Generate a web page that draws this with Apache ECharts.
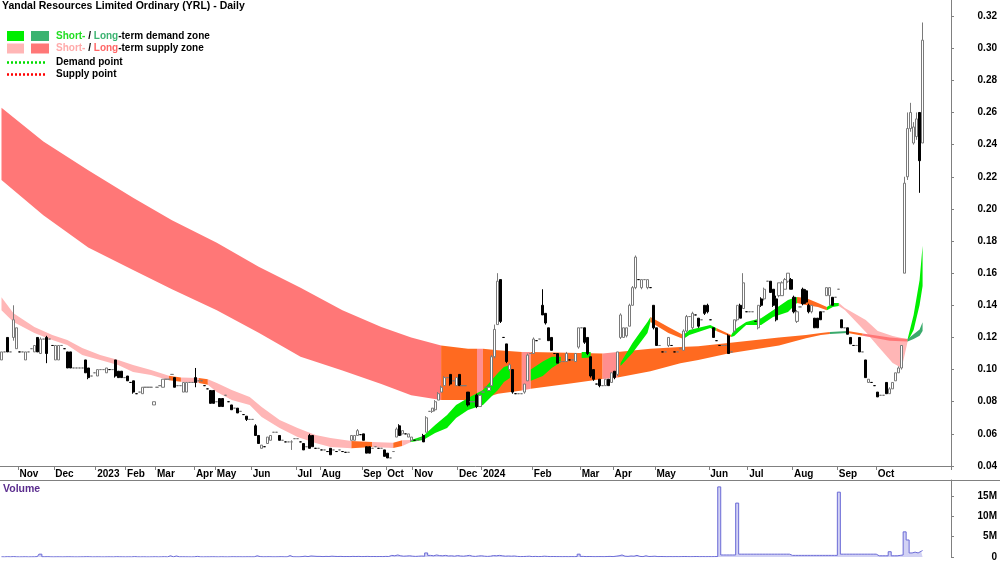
<!DOCTYPE html>
<html>
<head>
<meta charset="utf-8">
<title>YRL - Daily</title>
<script src="https://cdn.jsdelivr.net/npm/echarts@6/dist/echarts.min.js"></script>
<style>
  html, body { margin: 0; padding: 0; background: #fff; }
  #chart { width: 1000px; height: 562px; }
</style>
</head>
<body>
<div id="chart"></div>
<script>
// date axis: month labels and the bar each month starts on
var monthLabels = ['Nov', 'Dec', '2023', 'Feb', 'Mar', 'Apr', 'May', 'Jun', 'Jul', 'Aug', 'Sep', 'Oct',
                   'Nov', 'Dec', '2024', 'Feb', 'Mar', 'Apr', 'May', 'Jun', 'Jul', 'Aug', 'Sep', 'Oct'];
var monthStarts = [6, 18, 32, 42, 52, 65, 72, 84, 99, 107, 121, 129,
                   138, 153, 161, 178, 194, 205, 219, 237, 250, 265, 280, 293];
var barSlots = 318; // last few slots stay empty

// daily bars in cents: [open, close, low, high]; a plain number is a flat day
var candles = [
  /*   0 */ [10.6,11.1,10.6,11.1], 11.1, [12.0,11.1,11.1,12.0], 11.1, [12.0,13.1,11.8,14.0], [11.3,12.6,11.3,12.6], 11.1, 11.1, [10.6,11.1,10.6,11.1], 11.1,
  /*  10 */ 11.3, [11.1,11.5,11.1,11.5], [12.0,11.1,11.1,12.0], [11.0,11.9,11.0,12.0], 11.9, [12.0,11.0,10.4,12.1], 11.9, 11.5, [10.6,11.5,10.6,11.5], [10.6,11.5,10.6,11.5],
  /*  20 */ 11.5, 11.3, [11.1,10.1,10.1,11.1], [11.1,10.1,10.1,11.1], 10.1, 10.1, 10.1, 10.1, [10.6,9.8,9.8,10.6], [10.1,9.5,9.4,10.1],
  /*  30 */ 9.6, 9.8, [9.6,10.0,9.6,10.0], 10.0, 10.0, [9.8,10.1,9.8,10.1], 10.0, 10.0, [10.6,9.6,9.5,10.6], [9.9,9.5,9.5,9.9],
  /*  40 */ [9.9,9.5,9.5,9.9], 9.5, [9.6,9.3,9.3,9.6], 9.2, [9.3,8.6,8.5,9.3], 8.5, 8.6, [8.5,8.9,8.5,8.9], 8.9, 8.9,
  /*  50 */ 8.9, [7.8,8.0,7.8,8.0], 8.9, 9.0, [8.9,9.4,8.9,9.4], 9.4, 9.4, 9.7, [9.5,8.9,8.9,9.5], 9.0,
  /*  60 */ 9.0, [8.6,9.2,8.6,9.2], [8.6,9.2,8.6,9.2], 9.2, 9.2, [9.5,9.2,8.9,10.1], 9.3, 9.3, 9.0, 8.8,
  /*  70 */ [8.7,7.9,7.9,8.7], [8.7,7.9,7.9,8.7], 8.0, [8.2,7.7,7.7,8.2], [8.2,7.7,7.7,8.2], 8.4, 8.0, [7.8,7.5,7.5,7.8], 7.6, [7.6,7.3,7.3,7.6],
  /*  80 */ 7.4, 7.2, [7.1,6.9,6.8,7.1], 6.9, 6.9, [6.5,5.9,5.9,6.6], [5.9,5.4,5.4,5.9], [5.1,5.3,5.1,5.3], 5.2, [5.4,5.8,5.4,5.8],
  /*  90 */ [5.6,5.9,5.6,5.9], 6.1, 6.1, [5.9,5.6,5.6,5.9], 5.6, 5.5, 5.5, [5.5,5.5,5.0,5.6], 5.7, 5.7,
  /* 100 */ 5.5, [5.4,5.0,5.0,5.4], 5.2, [5.9,5.1,5.1,6.0], [5.9,5.2,5.2,5.9], 5.1, 5.1, 5.0, 5.0, 4.9,
  /* 110 */ [5.1,4.7,4.7,5.1], 5.0, 4.9, 5.0, 4.9, 4.85, 4.85, [5.6,5.9,5.6,5.9], [5.6,5.9,5.6,5.9], [5.9,6.2,5.9,6.3],
  /* 120 */ 5.95, [6.0,5.6,5.6,6.0], [5.2,4.8,4.8,5.2], [5.2,4.8,4.8,5.2], 5.1, 5.2, 5.1, 5.1, [5.0,4.6,4.6,5.0], [4.8,4.5,4.5,4.8],
  /* 130 */ 4.5, 4.9, [5.8,6.3,5.8,6.4], [6.5,5.9,5.9,6.6], [6.0,6.2,5.9,6.2], 6.0, [5.8,6.0,5.8,6.0], [5.6,5.8,5.5,5.8], 5.6, 5.6,
  /* 140 */ 5.7, [5.9,5.5,5.5,6.0], [6.1,7.0,6.1,7.1], 7.4, [7.4,7.6,7.3,7.6], [7.5,8.0,7.4,8.1], [8.1,8.5,8.1,8.6], [8.6,8.9,8.6,9.0], [9.0,9.5,9.0,9.6], 9.5,
  /* 150 */ [9.7,9.1,9.0,9.7], 9.3, [9.0,9.5,9.0,9.5], [9.7,9.0,9.0,9.7], 9.0, 9.0, [8.6,7.8,7.7,8.6], 8.0, 8.0, [8.4,7.7,7.6,8.5],
  /* 160 */ [7.7,8.4,7.7,8.5], 8.6, 8.9, [8.7,8.9,8.7,8.9], [9.0,10.8,9.0,10.9], [10.8,12.5,10.7,12.8], [12.8,15.5,12.8,16.0], [15.6,13.0,12.9,15.6], 12.0, [11.6,10.5,10.4,11.6],
  /* 170 */ [10.0,10.3,9.9,10.4], [10.0,8.6,8.5,10.0], 8.5, 8.5, 8.5, [8.6,9.1,8.5,9.1], [9.3,10.9,9.3,11.0], 11.0, [11.0,11.9,11.0,12.0], 11.8,
  /* 180 */ 11.9, [14.0,13.4,13.4,15.0], [13.5,12.9,12.8,13.5], [12.6,11.8,11.8,12.6], [12.0,11.2,11.2,12.0], 11.0, [11.0,10.4,10.4,11.0], 10.5, 10.5, [10.5,11.0,10.5,11.1],
  /* 190 */ 10.6, 10.6, [10.5,11.0,10.5,11.0], [11.4,12.6,11.3,12.6], 12.6, [12.6,11.7,11.6,12.6], [12.0,11.0,10.9,12.0], [10.8,9.6,9.5,10.8], [10.0,9.4,9.3,10.0], 9.1,
  /* 200 */ [9.4,9.0,8.9,9.4], 9.0, [9.0,9.4,9.0,9.4], [9.4,9.0,9.0,9.4], [9.2,9.8,9.2,9.8], [9.9,9.5,9.4,9.9], [9.7,11.1,9.6,11.1], [12.0,13.4,11.9,13.5], [12.0,12.6,12.0,12.6], [12.1,12.6,12.0,12.6],
  /* 210 */ [12.7,14.0,12.7,14.1], [14.0,15.1,14.0,15.2], [15.1,17.0,15.0,17.1], 15.6, [15.1,15.6,15.0,15.6], 15.6, [15.1,15.6,15.0,15.6], 15.1, [14.0,12.6,12.5,14.0], [12.6,11.5,11.5,12.6],
  /* 220 */ 11.5, 11.1, 11.1, [11.5,12.0,11.4,12.0], 11.5, 11.1, 11.1, 11.3, [11.2,12.4,11.2,12.5], [12.4,13.3,12.3,13.4],
  /* 230 */ 13.3, [12.6,13.5,12.5,13.6], 13.4, [13.2,12.7,12.6,13.2], 13.1, [14.0,13.5,13.4,14.0], [14.0,13.6,13.5,14.1], 13.1, [12.6,12.0,12.0,12.6], 11.8,
  /* 240 */ 11.5, 11.5, 11.5, [12.1,11.0,11.0,12.2], 11.1, [12.4,13.1,12.3,13.1], [13.1,14.0,13.0,14.0], [14.0,13.2,13.2,14.1], [13.8,15.4,13.8,16.0], 13.6,
  /* 250 */ 13.6, 13.6, 13.0, [12.6,14.0,12.5,14.0], [14.4,14.0,13.9,14.5], [14.4,15.0,14.3,15.1], 15.5, [15.5,14.8,14.8,15.5], [15.0,14.0,13.9,15.0], [14.4,13.1,13.0,14.6],
  /* 260 */ [14.6,15.4,14.5,15.4], [14.6,15.4,14.6,15.5], [15.0,15.6,15.0,15.7], [15.5,16.0,15.4,16.0], [15.6,15.0,15.0,15.7], [14.5,13.6,13.5,14.6], [13.0,13.6,12.9,13.7], 13.9, [15.0,14.1,14.0,15.1], [14.9,14.2,14.1,15.0],
  /* 270 */ [14.0,13.6,13.5,14.1], [13.6,14.0,13.5,14.0], [13.2,12.6,12.6,13.2], [13.2,12.6,12.6,13.2], [13.6,13.1,13.1,13.6], 13.6, [14.6,15.1,14.6,15.1], [14.6,15.1,14.0,15.1], [14.5,14.0,14.0,14.5], 14.5,
  /* 280 */ 15.0, [13.1,12.6,12.6,13.1], 12.6, [12.6,12.2,12.2,12.6], [12.0,11.6,11.6,12.0], 11.5, 11.5, [12.0,11.1,11.1,12.0], 11.1, [10.6,9.5,9.5,10.6],
  /* 290 */ [9.2,9.4,9.2,9.4], 9.2, 9.0, [8.6,8.3,8.3,8.6], 8.4, 8.4, [9.2,8.5,8.5,9.2], [8.5,8.8,8.5,8.9], [8.8,9.2,8.8,9.2], [9.3,9.8,9.3,9.8],
  /* 300 */ [9.8,10.1,9.8,10.2], [10.1,11.5,10.0,11.5], [16.0,21.6,16.0,22.0], [22.0,25.0,21.8,26.0], [25.0,26.0,24.8,26.6], [24.1,25.1,24.0,25.4], [24.5,25.6,24.3,26.0], [26.0,23.0,21.0,26.0], [24.1,30.5,24.1,31.6]
];

// daily volume in millions of shares
var volumes = [
  /*   0 */ 0.05,0.03,0.08,0.04,0.1,0.05,0.03,0.04,0.06,0.03,
  /*  10 */ 0.04,0.05,0.1,0.7,0.06,0.08,0.04,0.03,0.05,0.04,
  /*  20 */ 0.03,0.05,0.06,0.04,0.03,0.03,0.04,0.05,0.08,0.06,
  /*  30 */ 0.03,0.04,0.05,0.03,0.03,0.05,0.04,0.03,0.08,0.05,
  /*  40 */ 0.04,0.03,0.05,0.03,0.1,0.04,0.03,0.05,0.03,0.03,
  /*  50 */ 0.04,0.06,0.03,0.05,0.08,0.03,0.3,0.05,0.25,0.05,
  /*  60 */ 0.06,0.05,0.04,0.03,0.05,0.15,0.04,0.03,0.05,0.04,
  /*  70 */ 0.06,0.05,0.03,0.06,0.04,0.03,0.05,0.07,0.05,0.06,
  /*  80 */ 0.04,0.05,0.06,0.05,0.04,0.3,0.1,0.05,0.06,0.08,
  /*  90 */ 0.05,0.04,0.06,0.08,0.05,0.04,0.35,0.06,0.05,0.04,
  /* 100 */ 0.1,0.2,0.1,0.25,0.2,0.15,0.15,0.1,0.15,0.12,
  /* 110 */ 0.2,0.15,0.12,0.15,0.1,0.12,0.1,0.15,0.12,0.15,
  /* 120 */ 0.1,0.12,0.15,0.1,0.12,0.1,0.12,0.1,0.15,0.12,
  /* 130 */ 0.4,0.3,0.5,0.3,0.2,0.25,0.3,0.2,0.15,0.2,
  /* 140 */ 0.25,0.2,1.0,0.4,0.3,0.5,0.35,0.3,0.4,0.25,
  /* 150 */ 0.3,0.2,0.35,0.25,0.2,0.3,0.4,0.2,0.15,0.25,
  /* 160 */ 0.3,0.2,0.15,0.2,0.35,0.3,0.4,0.3,0.2,0.25,
  /* 170 */ 0.2,0.25,0.15,0.1,0.12,0.15,0.2,0.1,0.15,0.1,
  /* 180 */ 0.12,0.2,0.15,0.1,0.12,0.1,0.1,0.08,0.1,0.08,
  /* 190 */ 0.1,0.08,0.12,0.7,0.15,0.1,0.12,0.1,0.08,0.1,
  /* 200 */ 0.1,0.08,0.12,0.15,0.1,0.2,0.3,0.5,0.2,0.15,
  /* 210 */ 0.25,0.2,0.4,0.15,0.1,0.3,0.12,0.15,0.2,0.1,
  /* 220 */ 0.12,0.1,0.08,0.1,0.08,0.1,0.08,0.1,0.12,0.1,
  /* 230 */ 0.08,0.1,0.12,0.08,0.1,0.08,0.1,0.08,0.1,0.12,
  /* 240 */ 17.3,0.5,0.5,0.5,0.5,0.5,13.3,0.7,0.7,0.7,
  /* 250 */ 0.7,0.7,0.7,0.7,0.7,0.7,0.7,0.7,0.7,0.7,
  /* 260 */ 0.7,0.7,0.7,0.7,0.4,0.4,0.4,0.4,0.4,0.4,
  /* 270 */ 0.4,0.4,0.4,0.4,0.4,0.4,0.4,0.4,0.4,0.4,
  /* 280 */ 16.0,0.7,0.7,0.7,0.7,0.7,0.7,0.7,0.7,0.7,
  /* 290 */ 0.7,0.7,0.7,0.3,0.3,0.3,0.3,1.3,0.3,0.3,
  /* 300 */ 0.4,0.5,6.2,4.2,1.0,1.2,1.0,1.4,1.6
];

// zones in cents: [bar, low, high, colour of the stretch starting here]
// R long supply, P short supply, G short demand, D long demand, O mixed, S supply strip, N hidden
var longZone = [
  [0, 21.8, 26.3, 'R'], [14, 19.6, 24.2, 'R'], [29, 17.6, 22.4, 'R'], [44, 16.2, 20.7, 'R'],
  [57, 15.0, 19.3, 'R'], [72, 13.7, 17.9, 'R'], [86, 12.3, 16.4, 'R'], [100, 10.8, 15.1, 'R'],
  [114, 9.95, 13.7, 'R'], [127, 9.1, 12.65, 'R'], [137, 8.4, 12.0, 'R'], [147, 8.1, 11.5, 'O'],
  [156, 8.1, 11.3, 'O'], [159, 8.15, 11.3, 'S'], [161, 8.2, 11.3, 'O'], [166, 8.5, 11.2, 'O'],
  [174, 8.7, 11.1, 'S'], [177, 8.8, 11.1, 'O'], [189, 9.1, 11.05, 'O'], [201, 9.42, 11.0, 'S'],
  [206, 9.5, 11.1, 'O'], [217, 9.9, 11.3, 'O'], [227, 10.4, 11.4, 'O'], [233, 10.6, 11.45, 'O'],
  [243, 11.0, 11.65, 'O'], [260, 11.5, 12.0, 'O'], [269, 11.95, 12.15, 'O'], [274, 12.15, 12.28, 'O'],
  [277, 12.22, 12.34, 'D'], [283, 12.28, 12.4, '-']
];
var longTail = [
  [283, 12.28, 12.4, 'O'], [288, 12.1, 12.25, 'R'], [297, 11.8, 12.0, 'R'], [303, 11.75, 11.9, 'D'],
  [305, 11.9, 12.2, 'D'], [307, 12.1, 12.5, 'D'], [308, 12.4, 12.95, '-']
];
var shortZone = [
  [0, 13.7, 14.5, 'P'], [4, 12.96, 13.5, 'P'], [11, 12.28, 12.65, 'P'], [17, 11.84, 12.15, 'P'],
  [22, 11.53, 11.84, 'P'], [27, 10.91, 11.34, 'P'], [33, 10.6, 10.91, 'P'], [39, 10.29, 10.6, 'P'],
  [44, 9.85, 10.29, 'P'], [50, 9.66, 9.97, 'P'], [56, 9.33, 9.62, 'O'], [60, 9.25, 9.5, 'P'],
  [66, 9.16, 9.48, 'O'], [69, 9.05, 9.4, 'P'], [72, 8.6, 9.16, 'P'], [77, 8.11, 8.73, 'P'],
  [83, 7.8, 8.3, 'P'], [87, 7.05, 7.67, 'P'], [93, 6.36, 6.86, 'P'], [99, 5.8, 6.36, 'P'],
  [105, 5.43, 5.93, 'P'], [110, 5.18, 5.74, 'P'], [117, 5.1, 5.55, 'O'], [124, 5.18, 5.5, 'P'],
  [131, 5.12, 5.45, 'O'], [134, 5.24, 5.6, 'P'], [137, 5.5, 5.62, 'G'], [141, 5.62, 5.87, 'G'],
  [145, 6.05, 6.55, 'G'], [149, 6.36, 7.17, 'G'], [152, 6.99, 7.8, 'G'], [156, 7.48, 8.23, 'G'],
  [161, 7.8, 8.73, 'G'], [166, 8.73, 9.79, 'G'], [168, 9.23, 10.16, 'G'], [170, 9.48, 10.29, 'N'],
  [177, 9.3, 10.0, 'G'], [181, 9.6, 10.5, 'G'], [184, 10.1, 10.8, 'G'], [187, 10.45, 10.8, 'N'],
  [194, 10.72, 11.09, 'G'], [197, 10.75, 11.1, 'N'], [207, 10.22, 10.41, 'G'], [211, 11.03, 11.65, 'G'],
  [216, 12.28, 12.96, 'G'], [217, 12.96, 13.27, 'O'], [223, 12.28, 12.65, 'O'], [228, 11.9, 12.15, 'G'],
  [230, 12.15, 12.46, 'G'], [237, 12.59, 12.77, 'G'], [239, 12.4, 12.59, 'O'], [244, 12.03, 12.15, 'G'],
  [245, 12.09, 12.46, 'G'], [249, 12.77, 12.96, 'G'], [254, 12.77, 13.2, 'G'], [258, 13.27, 13.7, 'G'],
  [263, 13.58, 14.33, 'G'], [266, 14.14, 14.52, 'O'], [269, 14.02, 14.45, 'O'], [273, 13.89, 14.14, 'O'],
  [276, 13.7, 13.89, 'G'], [278, 13.89, 14.14, 'G'], [280, 13.95, 14.14, 'P'], [282, 13.71, 13.83, 'P'],
  [289, 12.34, 13.09, 'P'], [293, 11.47, 12.4, 'P'], [298, 10.41, 12.09, 'P'], [301, 10.1, 11.97, 'P'],
  [303, 11.75, 11.9, 'G'], [305, 12.46, 13.4, 'G'], [307, 14.02, 15.57, 'G'], [308, 15.2, 17.7, '-']
];

var zoneColors = { R: '#ff7777', P: '#ffb6b6', G: '#00ee00', D: '#3aaa6c', O: '#ff6a20', S: '#ff8e8e' };
var fontFam = '"Liberation Sans", Arial, Helvetica, sans-serif';

var cats = [];
for (var i = 0; i < barSlots; i++) cats.push(String(i));

var candleData = candles.map(function (c) {
  if (typeof c === 'number') return [c / 100, c / 100, c / 100, c / 100];
  return [c[0] / 100, c[1] / 100, c[2] / 100, c[3] / 100];
});
var volumeData = volumes.map(function (v) { return v * 1e6; });

function isMonthStart(index) {
  return monthStarts.indexOf(index) >= 0;
}

// one custom series per zone: runs of the same colour become one polygon
function zoneSeries(points) {
  return {
    type: 'custom',
    xAxisIndex: 0,
    yAxisIndex: 0,
    silent: true,
    clip: true,
    data: points.map(function (p) { return [p[0], p[1] / 100, p[2] / 100]; }),
    encode: { x: 0, y: [1, 2] },
    renderItem: function (params, api) {
      if (params.dataIndex !== 0) return;
      var shapes = [];
      var k = 0;
      while (k < points.length - 1) {
        var tag = points[k][3];
        var j = k;
        while (j < points.length - 1 && points[j][3] === tag) j++;
        if (tag !== 'N') {
          var top = [], bottom = [];
          for (var m = k; m <= j; m++) {
            top.push(api.coord([points[m][0], points[m][2] / 100]));
            bottom.unshift(api.coord([points[m][0], points[m][1] / 100]));
          }
          shapes.push({
            type: 'polygon',
            shape: { points: top.concat(bottom) },
            style: { fill: zoneColors[tag], stroke: null }
          });
        }
        k = j;
      }
      return { type: 'group', children: shapes };
    }
  };
}

var chart = echarts.init(document.getElementById('chart'));

var option = {
  animation: false,
  backgroundColor: '#ffffff',
  textStyle: { fontFamily: fontFam },
  grid: [
    { left: 0, right: 48, top: 0, height: 466 },
    { left: 0, right: 48, top: 480, bottom: 5 }
  ],
  xAxis: [
    {
      type: 'category',
      gridIndex: 0,
      data: cats,
      boundaryGap: true,
      axisLine: { show: true, lineStyle: { color: '#808080', width: 1 } },
      axisTick: {
        show: true,
        length: 4,
        interval: function (index) { return isMonthStart(index); },
        lineStyle: { color: '#808080' }
      },
      axisLabel: {
        interval: function (index) { return isMonthStart(index); },
        formatter: function (value, index) {
          var k = monthStarts.indexOf(Number(value));
          return k >= 0 ? monthLabels[k] : '';
        },
        align: 'left',
        margin: 3,
        color: '#000',
        fontSize: 10,
        fontWeight: 'bold',
        fontFamily: fontFam
      },
      splitLine: { show: false }
    },
    {
      type: 'category',
      gridIndex: 1,
      data: cats,
      boundaryGap: true,
      show: false
    }
  ],
  yAxis: [
    {
      type: 'value',
      gridIndex: 0,
      position: 'right',
      min: 0.04,
      max: 0.33,
      interval: 0.02,
      axisLine: { show: true, lineStyle: { color: '#808080' } },
      axisTick: { show: true, length: 3, lineStyle: { color: '#808080' } },
      axisLabel: {
        showMaxLabel: false,
        formatter: function (v) { return v.toFixed(2); },
        align: 'right',
        margin: 46,
        color: '#000',
        fontSize: 10,
        fontWeight: 'bold',
        fontFamily: fontFam
      },
      splitLine: { show: false }
    },
    {
      type: 'value',
      gridIndex: 1,
      position: 'right',
      min: 0,
      max: 19e6,
      interval: 5e6,
      axisLine: { show: true, lineStyle: { color: '#808080' } },
      axisTick: { show: true, length: 3, lineStyle: { color: '#808080' } },
      axisLabel: {
        showMaxLabel: false,
        formatter: function (v) { return v === 0 ? '0' : (v / 1e6) + 'M'; },
        align: 'right',
        margin: 46,
        color: '#000',
        fontSize: 10,
        fontWeight: 'bold',
        fontFamily: fontFam
      },
      splitLine: { show: false }
    }
  ],
  series: [
    zoneSeries(longZone),
    zoneSeries(shortZone),
    zoneSeries(longTail),
    {
      type: 'candlestick',
      name: 'YRL',
      xAxisIndex: 0,
      yAxisIndex: 0,
      data: candleData,
      barWidth: 2.6,
      silent: true,
      clip: true,
      itemStyle: {
        color: '#ffffff',
        color0: '#000000',
        borderColor: '#7a7a7a',
        borderColor0: '#000000',
        borderWidth: 1
      }
    },
    {
      type: 'line',
      name: 'Volume',
      xAxisIndex: 1,
      yAxisIndex: 1,
      data: volumeData,
      step: 'middle',
      symbol: 'none',
      silent: true,
      lineStyle: { color: '#6b6bd6', width: 1 },
      areaStyle: { color: '#d2d2f4', opacity: 1 }
    }
  ],
  graphic: [
    {
      type: 'text', x: 2, y: 6,
      style: {
        text: 'Yandal Resources Limited Ordinary (YRL) - Daily',
        font: 'bold 10.5px ' + fontFam, fill: '#000', verticalAlign: 'middle'
      }
    },
    { type: 'rect', shape: { x: 7, y: 31, width: 17, height: 10 }, style: { fill: '#00ee00' } },
    { type: 'rect', shape: { x: 31, y: 31, width: 18, height: 10 }, style: { fill: '#3cb371' } },
    { type: 'rect', shape: { x: 7, y: 43.5, width: 17, height: 10 }, style: { fill: '#ffb6b6' } },
    { type: 'rect', shape: { x: 31, y: 43.5, width: 18, height: 10 }, style: { fill: '#ff7777' } },
    {
      type: 'text', x: 56, y: 36,
      style: {
        text: '{g|Short-} / {d|Long}-term demand zone',
        font: 'bold 10px ' + fontFam, fill: '#000', verticalAlign: 'middle',
        rich: {
          g: { fill: '#22dd22', fontWeight: 'bold', fontSize: 10, fontFamily: fontFam },
          d: { fill: '#3cb371', fontWeight: 'bold', fontSize: 10, fontFamily: fontFam }
        }
      }
    },
    {
      type: 'text', x: 56, y: 48.5,
      style: {
        text: '{p|Short-} / {r|Long}-term supply zone',
        font: 'bold 10px ' + fontFam, fill: '#000', verticalAlign: 'middle',
        rich: {
          p: { fill: '#ffaaaa', fontWeight: 'bold', fontSize: 10, fontFamily: fontFam },
          r: { fill: '#ff6666', fontWeight: 'bold', fontSize: 10, fontFamily: fontFam }
        }
      }
    },
    { type: 'line', shape: { x1: 7, y1: 62.5, x2: 46, y2: 62.5 }, style: { stroke: '#00dd00', lineWidth: 2.5, lineDash: [2, 2] } },
    {
      type: 'text', x: 56, y: 62.5,
      style: { text: 'Demand point', font: 'bold 10px ' + fontFam, fill: '#000', verticalAlign: 'middle' }
    },
    { type: 'line', shape: { x1: 7, y1: 74.5, x2: 46, y2: 74.5 }, style: { stroke: '#ff0000', lineWidth: 2.5, lineDash: [2, 2] } },
    {
      type: 'text', x: 56, y: 74.5,
      style: { text: 'Supply point', font: 'bold 10px ' + fontFam, fill: '#000', verticalAlign: 'middle' }
    },
    { type: 'line', shape: { x1: 0, y1: 480.5, x2: 1000, y2: 480.5 }, style: { stroke: '#808080', lineWidth: 1 } },
    {
      type: 'text', x: 3, y: 489,
      style: { text: 'Volume', font: 'bold 10.5px ' + fontFam, fill: '#5b2d8e', verticalAlign: 'middle' }
    }
  ]
};

chart.setOption(option);
</script>
</body>
</html>
